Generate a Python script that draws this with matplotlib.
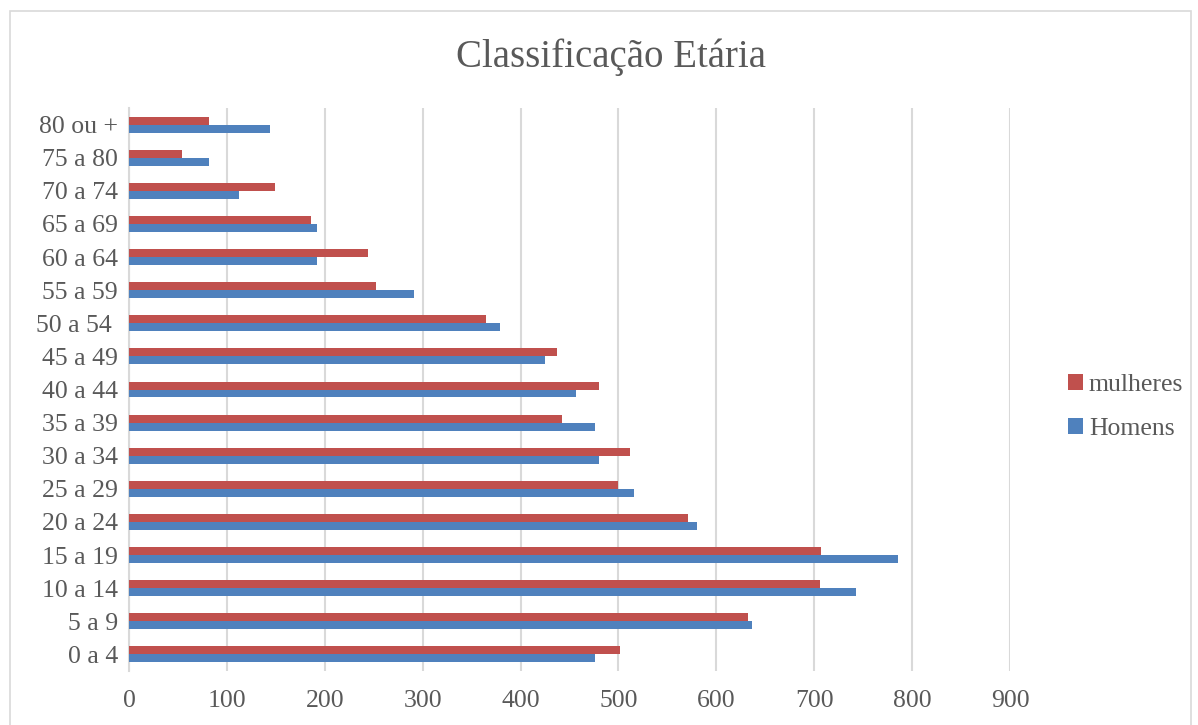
import matplotlib.pyplot as plt
import numpy as np
from matplotlib.patches import Rectangle

# faixas etárias, de baixo para cima
faixas = ['0 a 4', '5 a 9', '10 a 14', '15 a 19', '20 a 24', '25 a 29',
          '30 a 34', '35 a 39', '40 a 44', '45 a 49', '50 a 54 ', '55 a 59',
          '60 a 64', '65 a 69', '70 a 74', '75 a 80', '80 ou +']
homens = [476, 636, 743, 786, 580, 516, 480, 476, 457, 425, 379, 291,
          192, 192, 112, 82, 144]
mulheres = [502, 632, 706, 707, 571, 500, 512, 442, 480, 437, 365, 252,
            244, 186, 149, 54, 82]

cor_h = '#4F81BD'
cor_m = '#C0504D'
cinza = '#595959'

plt.rcParams['font.family'] = ['Liberation Serif', 'DejaVu Serif']

fig = plt.figure(figsize=(11.98, 7.25), dpi=100)
ax = fig.add_axes([0.1077, 0.0745, 0.7354, 0.7765])

y = np.arange(len(faixas))
h = 0.24
ax.barh(y + h / 2, mulheres, height=h, color=cor_m, label='mulheres', zorder=3)
ax.barh(y - h / 2, homens, height=h, color=cor_h, label='Homens', zorder=3)

ax.set_xlim(0, 900)
ax.set_ylim(-0.5, len(faixas) - 0.5)
ax.set_xticks(range(0, 1000, 100))
ax.set_yticks(y)
ax.set_yticklabels(faixas)
ax.tick_params(length=0, labelsize=18.5, labelcolor=cinza)
ax.tick_params(axis='x', pad=14)
ax.tick_params(axis='y', pad=8)
ax.grid(axis='x', color='#d9d9d9', linewidth=1.5, zorder=0)
for s in ['top', 'right', 'bottom']:
    ax.spines[s].set_visible(False)
ax.spines['left'].set_color('#d9d9d9')
ax.spines['left'].set_linewidth(1.5)

fig.text(0.51, 0.921, 'Classificação Etária', ha='center', va='center',
         fontsize=28, color=cinza)

leg = ax.legend(loc='center left', bbox_to_anchor=(1.04, 0.469), frameon=False,
                fontsize=18.5, handlelength=0.55, handleheight=0.55,
                handletextpad=0.25, labelspacing=0.85)
for t in leg.get_texts():
    t.set_color(cinza)

# moldura do gráfico
fig.patches.append(Rectangle((0.008, -0.01), 0.986, 0.995, transform=fig.transFigure,
                             fill=False, edgecolor='#d9d9d9', linewidth=1.2))

fig.savefig('out.png', dpi=100)
